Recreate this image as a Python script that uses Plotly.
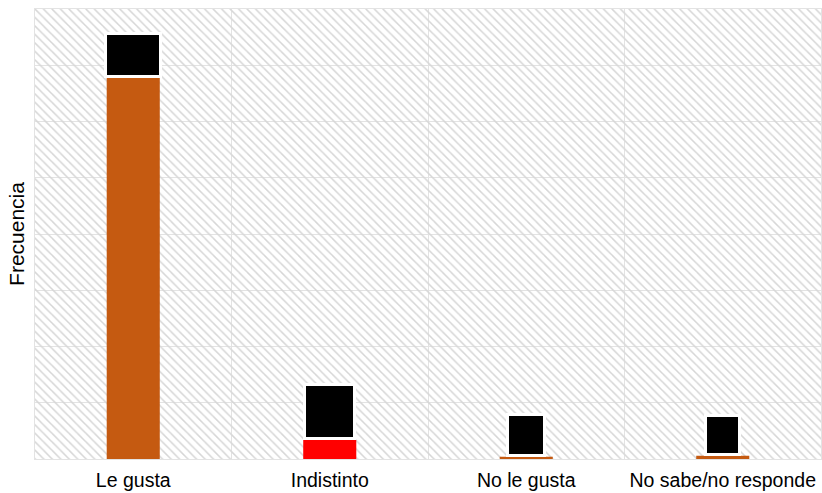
import plotly.graph_objects as go

categories = ["Le gusta", "Indistinto", "No le gusta", "No sabe/no responde"]
values = [339, 17, 2, 3]
labels = ["339", "17", "2", "3"]

bar_colors = ["#C55A11", "#FF0000", "#C55A11", "#C55A11"]
box_w = [52, 47, 34, 31]
box_h = [40, 51, 38, 36]
y_max = 400

fig = go.Figure()

# hatched background
fig.add_trace(go.Bar(
    x=categories, y=[y_max] * len(categories), width=1,
    marker=dict(color="rgba(0,0,0,0)", line=dict(width=0),
                pattern=dict(shape="\\", fgcolor="#D6D6D6", bgcolor="rgba(0,0,0,0)",
                             size=6, solidity=0.25, fillmode="replace")),
    hoverinfo="skip", showlegend=False))

fig.add_trace(go.Bar(
    x=categories, y=values, width=0.27,
    marker=dict(color=bar_colors, line=dict(width=0)),
    showlegend=False))

for c, v, t, w, h in zip(categories, values, labels, box_w, box_h):
    fig.add_annotation(x=c, y=v, text=t, showarrow=False, xanchor="center", yanchor="bottom",
                       font=dict(color="black", size=14), bgcolor="black",
                       bordercolor="white", borderwidth=3, borderpad=0,
                       width=w, height=h)

fig.update_layout(
    width=822, height=493,
    margin=dict(l=35, r=1, t=9, b=34),
    barmode="overlay",
    plot_bgcolor="white", paper_bgcolor="white",
    font=dict(family="Liberation Sans, Arial, sans-serif", size=19, color="black"),
    xaxis=dict(range=[-0.5, 3.5], tickson="boundaries", showgrid=True, gridcolor="#E3E3E3",
               ticks="", showline=True, mirror=True, linecolor="#E3E3E3", linewidth=1,
               tickfont=dict(size=19.5), ticklabelstandoff=4, automargin=False),
    yaxis=dict(range=[0, y_max], dtick=50, showgrid=True, gridcolor="#E3E3E3",
               showticklabels=False, ticks="", showline=True, mirror=True,
               linecolor="#E3E3E3", zeroline=False, automargin=False,
               title=dict(text="Frecuencia", font=dict(size=21), standoff=3)),
)

fig.write_html("out.html", config={"displayModeBar": False},
               post_script="document.body.style.margin='0';document.body.style.overflow='hidden';")
